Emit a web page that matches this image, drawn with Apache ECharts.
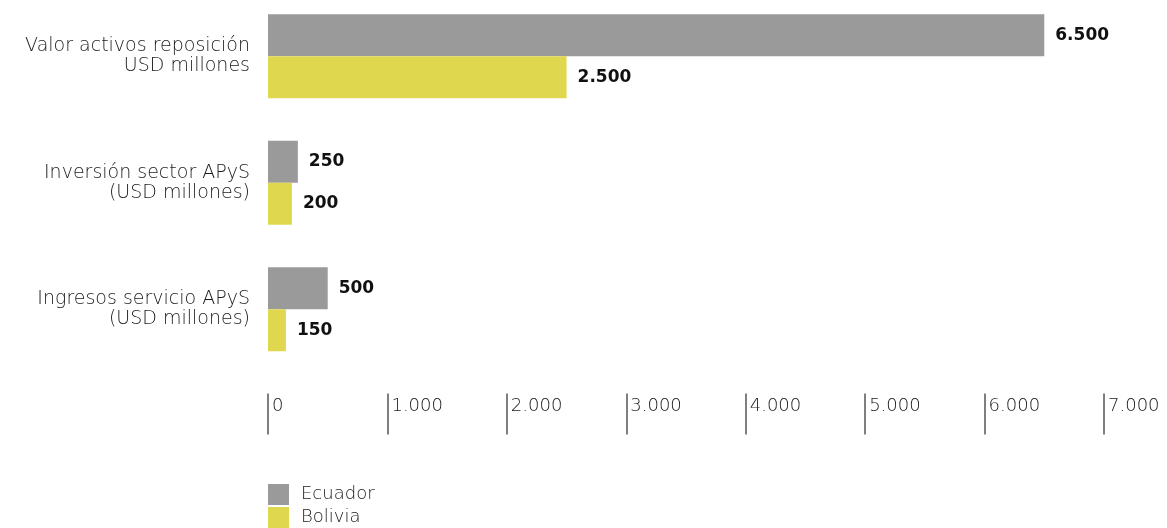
<!DOCTYPE html>
<html>
<head>
<meta charset="utf-8">
<script src="https://cdn.jsdelivr.net/npm/echarts@6/dist/echarts.min.js"></script>
<style>
  html, body { margin: 0; padding: 0; background: #ffffff; overflow: hidden; }
  #wrap { width: 1167px; height: 528px; overflow: hidden; position: relative; }
  /* the canvas starts a few pixels above the page so the first bar sits near the top edge */
  #chart { position: absolute; left: 0; top: -7px; width: 1167px; height: 535px; }
</style>
</head>
<body>
<div id="wrap"><div id="chart"></div></div>
<script>
// Indicator names (two-line labels on the category axis)
const categories = [
  'Valor activos reposición\nUSD millones',
  'Inversión sector APyS\n(USD millones)',
  'Ingresos servicio APyS\n(USD millones)'
];
const ecuador = [6500, 250, 500];
const bolivia = [2500, 200, 150];
const seriesNames = ['Ecuador', 'Bolivia'];
const xTicks = { min: 0, max: 7000, interval: 1000 };

const FONT = '"DejaVu Sans", "Open Sans", sans-serif';
const fmtThousands = v => String(v).replace(/\B(?=(\d{3})+(?!\d))/g, '.');

const chart = echarts.init(document.getElementById('chart'), null, { renderer: 'canvas' });

const valueLabel = {
  show: true,
  position: 'right',
  distance: 11,
  fontFamily: FONT,
  fontWeight: 'bold',
  fontSize: 17,
  color: '#111',
  formatter: p => fmtThousands(p.value)
};

chart.setOption({
  animation: false,
  backgroundColor: '#ffffff',
  grid: { left: 268, right: 63, top: 0, bottom: 155.5, containLabel: false },
  xAxis: {
    type: 'value',
    position: 'bottom',
    min: xTicks.min,
    max: xTicks.max,
    interval: xTicks.interval,
    offset: 21,
    axisLine: { show: false },
    splitLine: { show: false },
    axisTick: { show: true, length: 41, lineStyle: { color: '#555', width: 1.5 } },
    axisLabel: {
      margin: 4,
      align: 'left',
      verticalAlign: 'top',
      padding: [0, 0, 0, 4],
      fontFamily: FONT,
      fontWeight: 200,
      fontSize: 18,
      color: '#1a1a1a',
      formatter: v => fmtThousands(v)
    }
  },
  yAxis: {
    type: 'category',
    inverse: true,
    data: categories,
    axisLine: { show: false },
    axisTick: { show: false },
    axisLabel: {
      margin: 18,
      fontFamily: FONT,
      fontWeight: 200,
      fontSize: 19,
      lineHeight: 20,
      color: '#1a1a1a',
      align: 'right'
    }
  },
  legend: {
    orient: 'vertical',
    left: 268,
    top: 491,
    padding: 0,
    itemGap: 2,
    itemWidth: 21,
    itemHeight: 21,
    icon: 'rect',
    data: seriesNames,
    textStyle: { fontFamily: FONT, fontWeight: 200, fontSize: 18, color: '#1a1a1a', padding: [0, 0, 0, 7] }
  },
  series: [
    {
      name: seriesNames[0],
      type: 'bar',
      data: ecuador,
      barGap: '0%',
      barCategoryGap: '33.6%',
      itemStyle: { color: '#9a9a9a' },
      label: valueLabel
    },
    {
      name: seriesNames[1],
      type: 'bar',
      data: bolivia,
      barGap: '0%',
      barCategoryGap: '33.6%',
      itemStyle: { color: '#dfd84f' },
      label: valueLabel
    }
  ]
});
</script>
</body>
</html>
